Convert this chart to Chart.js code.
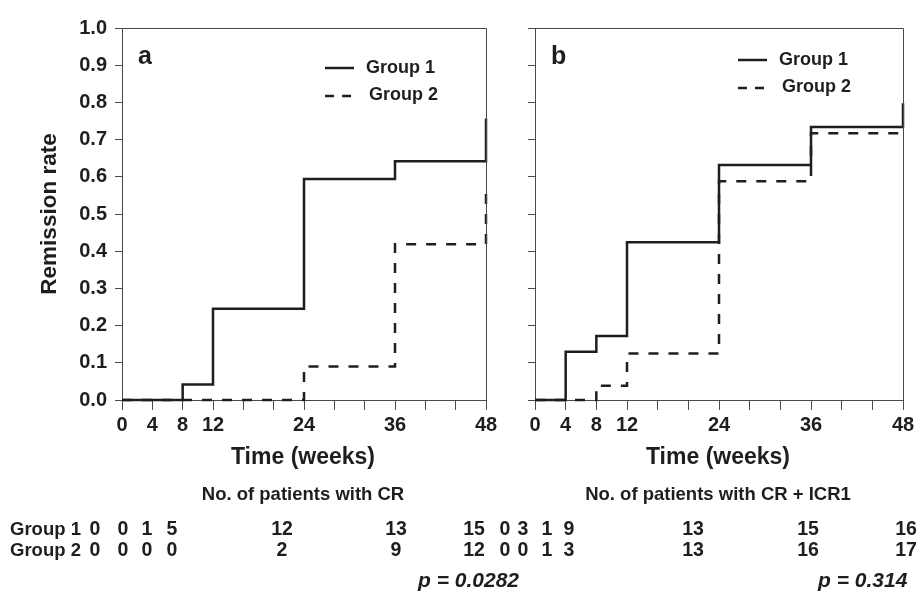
<!DOCTYPE html>
<html lang="en">
  <head>
    <meta charset="UTF-8" />
    <title>Remission rate</title>
    <style>
      body { margin: 0; background: #fff; }
      .wrap { position: relative; width: 920px; height: 593px; }
      .wrap canvas { position: absolute; left: 0; top: 0; }
    </style>
  </head>
  <body>
    <div class="wrap">
      <canvas id="chartA" width="920" height="593"></canvas>
      <canvas id="chartB" width="920" height="593"></canvas>
    </div>
    <script src="https://cdn.jsdelivr.net/npm/chart.js"></script>
    <script>
      // step points: week at which the rate jumps, rate after the jump
      const weeksA1 = [0, 8, 12, 24, 36, 48];
      const rateA1 = [0, 0.042, 0.245, 0.594, 0.642, 0.757];
      const weeksA2 = [0, 24, 36, 48];
      const rateA2 = [0, 0.09, 0.419, 0.575];

      const weeksB1 = [0, 4, 8, 12, 24, 36, 48];
      const rateB1 = [0, 0.13, 0.172, 0.424, 0.632, 0.734, 0.798];
      const weeksB2 = [0, 8, 12, 24, 36, 48];
      const rateB2 = [0, 0.038, 0.125, 0.588, 0.717, 0.717];

      const xLabels = [0, 4, 8, 12, 24, 36, 48];

      // patients table under each panel
      const crGroup1 = [0, 0, 1, 5, 12, 13, 15];
      const crGroup2 = [0, 0, 0, 0, 2, 9, 12];
      const icrGroup1 = [0, 3, 1, 9, 13, 15, 16];
      const icrGroup2 = [0, 0, 1, 3, 13, 16, 17];

      const colA = [95, 123, 147, 172, 282, 396, 474];
      const colB = [505, 523, 547, 569, 693, 808, 906];

      const ink = "#1e1e1e";
      const axisInk = "#4a4a4a";
      const fam = "'Liberation Sans', Arial, Helvetica, sans-serif";

      Chart.defaults.font.family = fam;
      Chart.defaults.color = ink;

      function pts(xs, ys) {
        return xs.map((x, i) => ({ x: x, y: ys[i] }));
      }

      function scales(showY) {
        return {
          x: {
            type: "linear",
            min: 0,
            max: 48,
            ticks: {
              stepSize: 4,
              autoSkip: false,
              maxRotation: 0,
              padding: 3,
              color: ink,
              font: { size: 20, weight: "bold" },
              callback: (v) => (xLabels.includes(v) ? String(v) : ""),
            },
            grid: { drawOnChartArea: false, tickLength: 10, color: axisInk, lineWidth: 1 },
            border: { color: axisInk, width: 1 },
            afterFit: (s) => { s.height = 34; },
          },
          y: {
            min: 0,
            max: 1,
            ticks: {
              stepSize: 0.1,
              padding: 8,
              color: ink,
              font: { size: 20, weight: "bold" },
              callback: (v) => (showY ? v.toFixed(1) : ""),
            },
            grid: { drawOnChartArea: false, tickLength: 7, color: axisInk, lineWidth: 1 },
            border: { color: axisInk, width: 1 },
            afterFit: (s) => { s.width = 50; },
          },
        };
      }

      // closes the box on the top and right sides
      const frame = {
        id: "frame",
        afterDraw(chart) {
          const a = chart.chartArea;
          const ctx = chart.ctx;
          ctx.save();
          ctx.strokeStyle = axisInk;
          ctx.lineWidth = 1;
          ctx.beginPath();
          ctx.moveTo(a.left, a.top + 0.5);
          ctx.lineTo(a.right + 0.5, a.top + 0.5);
          ctx.lineTo(a.right + 0.5, a.bottom);
          ctx.stroke();
          ctx.restore();
        },
      };

      function text(ctx, s, x, y, size, align, style) {
        ctx.font = (style || "bold") + " " + size + "px " + fam;
        ctx.textAlign = align || "left";
        ctx.textBaseline = "middle";
        ctx.fillStyle = ink;
        ctx.fillText(s, x, y);
      }

      function legendLine(ctx, x, y, dashed) {
        ctx.save();
        ctx.strokeStyle = ink;
        ctx.lineWidth = 2.5;
        ctx.setLineDash(dashed ? [9, 8] : []);
        ctx.beginPath();
        ctx.moveTo(x, y);
        ctx.lineTo(x + 29, y);
        ctx.stroke();
        ctx.restore();
      }

      function notes(cfg) {
        return {
          id: "notes",
          afterDraw(chart) {
            const ctx = chart.ctx;
            const a = chart.chartArea;
            const mid = (a.left + a.right) / 2;
            ctx.save();
            text(ctx, cfg.letter, cfg.letterX, 57, 25);
            legendLine(ctx, cfg.legX, cfg.legY, false);
            legendLine(ctx, cfg.legX, cfg.legY + 28, true);
            text(ctx, "Group 1", cfg.legX + 41, cfg.legY, 18);
            text(ctx, "Group 2", cfg.legX + 44, cfg.legY + 27, 18);
            text(ctx, "Time (weeks)", mid - 1, 458, 23, "center");
            text(ctx, cfg.tableTitle, mid - 1, 495, 18.5, "center");
            cfg.row1.forEach((n, i) => text(ctx, String(n), cfg.cols[i], 530, 19.5, "center"));
            cfg.row2.forEach((n, i) => text(ctx, String(n), cfg.cols[i], 551, 19.5, "center"));
            text(ctx, cfg.p, cfg.pX, 581, 21, "left", "italic bold");
            if (cfg.first) {
              text(ctx, "Group 1", 10, 530, 18.5);
              text(ctx, "Group 2", 10, 551, 18.5);
              ctx.translate(50, 214);
              ctx.rotate(-Math.PI / 2);
              text(ctx, "Remission rate", 0, 0, 22.5, "center");
            }
            ctx.restore();
          },
        };
      }

      function panel(id, g1, g2, padding, showY, cfg) {
        new Chart(document.getElementById(id), {
          type: "line",
          data: {
            datasets: [
              {
                label: "Group 1",
                data: g1,
                stepped: "before",
                borderColor: ink,
                borderWidth: 2.5,
                pointRadius: 0,
                fill: false,
              },
              {
                label: "Group 2",
                data: g2,
                stepped: "before",
                borderColor: ink,
                borderWidth: 2.5,
                borderDash: [10, 10],
                pointRadius: 0,
                fill: false,
              },
            ],
          },
          options: {
            responsive: false,
            animation: false,
            devicePixelRatio: 1,
            clip: false,
            layout: { padding: padding },
            plugins: { legend: { display: false }, tooltip: { enabled: false } },
            scales: scales(showY),
          },
          plugins: [frame, notes(cfg)],
        });
      }

      panel("chartA", pts(weeksA1, rateA1), pts(weeksA2, rateA2),
        { left: 72, top: 28, right: 434, bottom: 159 }, true, {
          first: true, letter: "a", letterX: 138, legX: 325, legY: 68,
          tableTitle: "No. of patients with CR", row1: crGroup1, row2: crGroup2,
          cols: colA, p: "p = 0.0282", pX: 418,
        });

      panel("chartB", pts(weeksB1, rateB1), pts(weeksB2, rateB2),
        { left: 485, top: 28, right: 17, bottom: 159 }, false, {
          first: false, letter: "b", letterX: 551, legX: 738, legY: 60,
          tableTitle: "No. of patients with CR + ICR1", row1: icrGroup1, row2: icrGroup2,
          cols: colB, p: "p = 0.314", pX: 818,
        });
    </script>
  </body>
</html>
